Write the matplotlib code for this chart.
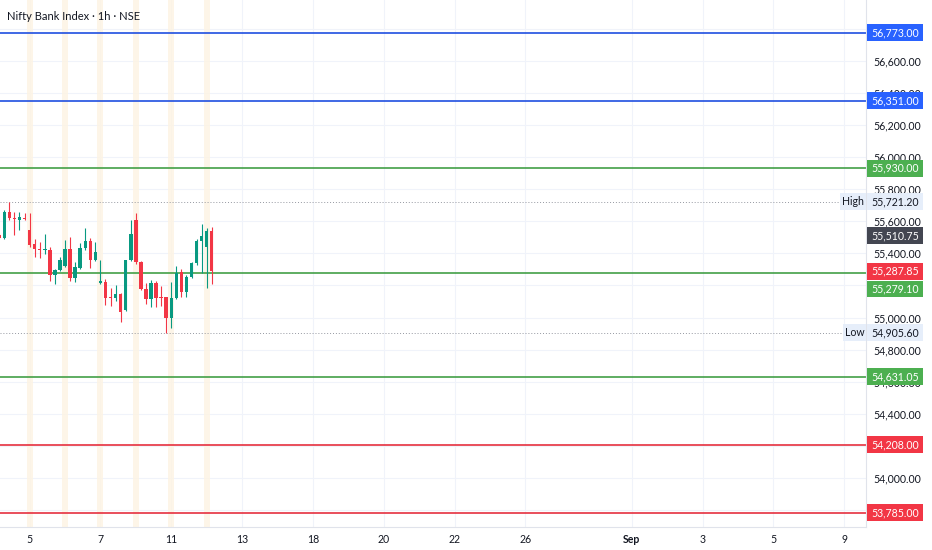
import matplotlib.pyplot as plt
from matplotlib.patches import Rectangle
import matplotlib.transforms as mtransforms

plt.rcParams['font.family'] = ['Lato', 'DejaVu Sans']

title = 'Nifty Bank Index · 1h · NSE'

# hourly candles
opens = [55515, 55497, 55659, 55622, 55609, 55623, 55545, 55456, 55427, 55419,
         55421, 55265, 55296, 55323, 55427, 55244, 55310, 55431, 55477, 55358,
         55213, 55219, 55130, 55120, 55148, 55047, 55356, 55607, 55348, 55178,
         55115, 55213, 55128, 55128, 54995, 55120, 55282, 55161, 55254, 55338,
         55477, 55441, 55539]
highs = [55525, 55670, 55721, 55659, 55659, 55651, 55651, 55489, 55472, 55518,
         55441, 55300, 55379, 55483, 55503, 55348, 55462, 55560, 55493, 55472,
         55358, 55240, 55186, 55202, 55150, 55360, 55607, 55649, 55355, 55213,
         55234, 55228, 55198, 55130, 55223, 55323, 55302, 55265, 55348, 55490,
         55581, 55556, 55566]
lows = [55490, 55490, 55607, 55514, 55545, 55607, 55441, 55379, 55373, 55394,
        55227, 55207, 55290, 55315, 55227, 55223, 55302, 55421, 55310, 55352,
        55207, 55078, 55074, 55103, 54974, 55040, 55352, 55335, 55170, 55082,
        55067, 55067, 55074, 54906, 54936, 55115, 55130, 55130, 55244, 55330,
        55275, 55186, 55207]
closes = [55495, 55659, 55618, 55612, 55626, 55614, 55452, 55427, 55419, 55427,
          55265, 55296, 55358, 55427, 55249, 55317, 55431, 55477, 55358, 55410,
          55227, 55123, 55120, 55145, 55036, 55358, 55518, 55344, 55176, 55115,
          55213, 55123, 55120, 54995, 55120, 55275, 55161, 55254, 55338, 55477,
          55508, 55539, 55288]

day_starts = [6, 13, 20, 27, 34, 41]
date_ticks = [6, 20, 34, 48, 62, 76, 90, 104, 125, 139, 153, 167]
date_labels = ['5', '7', '11', '13', '18', '20', '22', '26', 'Sep', '3', '5', '9']

# price scale labels that stay visible next to the level tags
price_ticks = [56600, 56400, 56200, 56000, 55800, 55600, 55400,
               55000, 54800, 54600, 54400, 54000]

levels = [56773.00, 56351.00, 55930.00, 55279.10, 54631.05, 54208.00, 53785.00]
level_kinds = ['blue', 'blue', 'green', 'green', 'green', 'red', 'red']

high_val = 55721.20
low_val = 54905.60
last_price = 55287.85
prev_close = 55510.75

up_c = '#089981'
dn_c = '#f23645'
line_cols = {'blue': '#1f4fe0', 'green': '#43a047', 'red': '#e5303f'}
box_cols = {'blue': '#2962ff', 'green': '#4caf50', 'red': '#f23645'}

fig = plt.figure(figsize=(9.32, 5.5), dpi=100)
ax = fig.add_axes([0, 23 / 550, 866 / 932, 527 / 550])
ax.set_xlim(0.15, 171.3)
ax.set_ylim(53695, 56978)

# grid every 200 points
for g in range(53800, 56801, 200):
    ax.axhline(g, color='#f0f3fa', lw=0.8, zorder=0)
for t in date_ticks:
    ax.axvline(t, color='#f0f3fa', lw=0.8, zorder=0)

ax.set_yticks(price_ticks)
ax.set_yticklabels(['{:,.2f}'.format(v) for v in price_ticks])
ax.yaxis.tick_right()
ax.tick_params(axis='y', length=0, pad=5, labelsize=7.6, labelcolor='#131722')
ax.set_xticks(date_ticks)
ax.set_xticklabels(date_labels)
ax.tick_params(axis='x', length=0, pad=5, labelsize=7.6, labelcolor='#131722')
for t in ax.get_xticklabels():
    if t.get_text() == 'Sep':
        t.set_fontweight('bold')

for s in ['top', 'left']:
    ax.spines[s].set_visible(False)
for s in ['right', 'bottom']:
    ax.spines[s].set_color('#e0e3eb')

# session breaks
for d in day_starts:
    ax.axvspan(d - 0.6, d + 0.6, color='#fdf3e3', alpha=0.8, lw=0, zorder=0.5)

# candles
for i in range(len(opens)):
    o, h, l, c = opens[i], highs[i], lows[i], closes[i]
    col = up_c if c >= o else dn_c
    ax.vlines(i, l, h, color=col, lw=0.8, zorder=3)
    ax.bar(i, max(abs(c - o), 8), bottom=min(o, c), width=0.68, color=col, zorder=4)

# high / low dotted
ax.axhline(high_val, xmax=840 / 866, color='#9598a1', ls=(0, (1, 2)), lw=0.7, zorder=1)
ax.axhline(low_val, xmax=843 / 866, color='#9598a1', ls=(0, (1, 2)), lw=0.7, zorder=1)

trans = mtransforms.blended_transform_factory(ax.transAxes, ax.transData)
box_h = 105
bx0 = 867 / 866
bw = 56 / 866


def price_box(y, text, fc, tc='white'):
    ax.add_patch(Rectangle((bx0, y - box_h / 2), bw, box_h, transform=trans,
                           fc=fc, ec='none', clip_on=False, zorder=10))
    ax.text(bx0 + bw / 2, y, text, transform=trans, ha='center', va='center',
            fontsize=7.6, color=tc, clip_on=False, zorder=11)


# high / low tags
for val, tag, x0 in [(high_val, 'High', 840), (low_val, 'Low', 843)]:
    ax.add_patch(Rectangle((x0 / 866, val - box_h / 2), (866 - x0) / 866, box_h,
                           transform=trans, fc='#e6eefa', ec='none', clip_on=False, zorder=10))
    ax.text((x0 + 866) / 2 / 866, val, tag, transform=trans, ha='center', va='center',
            fontsize=7.6, color='#131722', zorder=11)
    price_box(val, '{:,.2f}'.format(val), '#e6eefa', '#131722')

price_box(prev_close, '{:,.2f}'.format(prev_close), '#434651')
price_box(last_price, '{:,.2f}'.format(last_price), dn_c)

# key levels
for lv, kind in zip(levels, level_kinds):
    ax.axhline(lv, color=line_cols[kind], lw=1.2, zorder=2)
    y = lv
    if abs(lv - last_price) < box_h:
        y = last_price - box_h - 5
    price_box(y, '{:,.2f}'.format(lv), box_cols[kind])

fig.text(7 / 932, 1 - 16 / 550, title, fontsize=8, va='center', color='#131722')

fig.savefig('out.png', dpi=100)
